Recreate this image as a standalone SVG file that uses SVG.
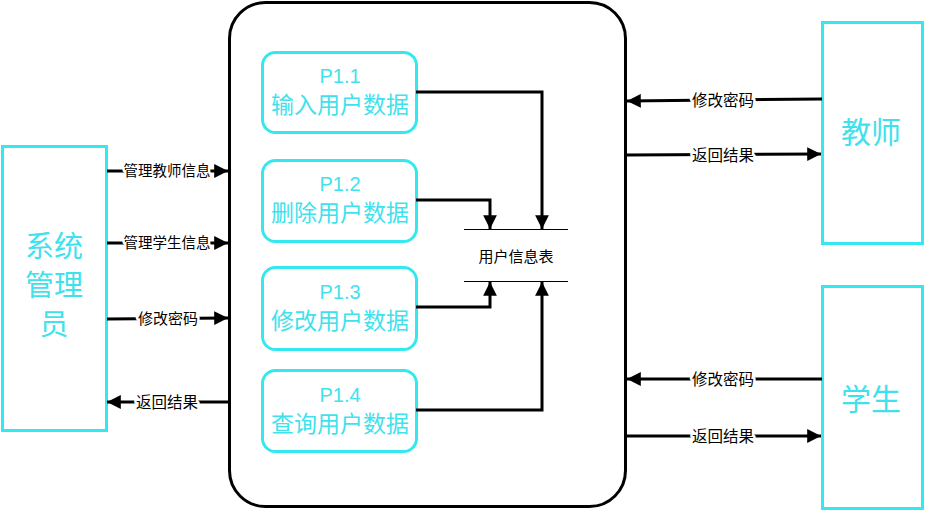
<svg xmlns="http://www.w3.org/2000/svg" width="925" height="510" viewBox="0 0 925 510">
  <style>
    .ent { fill: #fff; stroke: #33e8ee; stroke-width: 3; }
    .proc { fill: #fff; stroke: #33e8ee; stroke-width: 3; }
    .cyan { fill: #3fe2ec; font-family: "Liberation Sans", "Noto Sans CJK SC", sans-serif; text-anchor: middle; }
    .lbl { fill: #000; font-family: "Liberation Sans", "Noto Sans CJK SC", sans-serif; text-anchor: middle; dominant-baseline: central; stroke: #fff; stroke-width: 5; paint-order: stroke; stroke-linejoin: round; }
    .flow { fill: none; stroke: #000; stroke-width: 3; }
    .store { stroke: #000; stroke-width: 1.2; }
  </style>
  <defs>
    <marker id="arr" viewBox="0 0 10 10" refX="10" refY="5" markerWidth="6" markerHeight="4.6" markerUnits="strokeWidth" orient="auto">
      <path d="M0,0 L10,5 L0,10 z" fill="#000"/>
    </marker>
  </defs>
  <rect width="925" height="510" fill="#fff"/>

  <!-- system boundary -->
  <g id="system">
    <rect x="229.5" y="2.5" width="396" height="504" rx="36" ry="36" fill="#fff" stroke="#000" stroke-width="3"/>
  </g>

  <!-- external entities -->
  <g id="admin">
    <rect class="ent" x="2.5" y="146.5" width="104" height="284"/>
    <text class="cyan" font-size="29" x="54" y="257">系统</text>
    <text class="cyan" font-size="29" x="54" y="296">管理</text>
    <text class="cyan" font-size="29" x="54" y="335">员</text>
  </g>
  <g id="teacher">
    <rect class="ent" x="822.5" y="22.5" width="100" height="221"/>
    <text class="cyan" font-size="30" x="871" y="143">教师</text>
  </g>
  <g id="student">
    <rect class="ent" x="822.5" y="286.5" width="100" height="222"/>
    <text class="cyan" font-size="30" x="871" y="410">学生</text>
  </g>

  <!-- processes -->
  <g id="p11">
    <rect class="proc" x="262.5" y="52.5" width="154" height="80" rx="13"/>
    <text class="cyan" font-size="20" x="340" y="83">P1.1</text>
    <text class="cyan" font-size="23" x="340" y="113">输入用户数据</text>
  </g>
  <g id="p12">
    <rect class="proc" x="262.5" y="160.5" width="154" height="81" rx="13"/>
    <text class="cyan" font-size="20" x="340" y="191">P1.2</text>
    <text class="cyan" font-size="23" x="340" y="221">删除用户数据</text>
  </g>
  <g id="p13">
    <rect class="proc" x="262.5" y="267.5" width="154" height="82" rx="13"/>
    <text class="cyan" font-size="20" x="340" y="299">P1.3</text>
    <text class="cyan" font-size="23" x="340" y="329">修改用户数据</text>
  </g>
  <g id="p14">
    <rect class="proc" x="262.5" y="370.5" width="154" height="81" rx="13"/>
    <text class="cyan" font-size="20" x="340" y="402">P1.4</text>
    <text class="cyan" font-size="23" x="340" y="432">查询用户数据</text>
  </g>

  <!-- data store -->
  <g id="store">
    <line class="store" x1="464" y1="229.5" x2="568" y2="229.5"/>
    <line class="store" x1="464" y1="281.5" x2="568" y2="281.5"/>
    <text x="516" y="256" font-size="15" font-family="Liberation Sans, Noto Sans CJK SC, sans-serif" text-anchor="middle" dominant-baseline="central">用户信息表</text>
  </g>

  <!-- data flows -->
  <g id="connectors">
    <polyline class="flow" points="416,92 542,92 542,229" marker-end="url(#arr)"/>
    <polyline class="flow" points="416,200 490,200 490,229" marker-end="url(#arr)"/>
    <polyline class="flow" points="416,307 490,307 490,282" marker-end="url(#arr)"/>
    <polyline class="flow" points="416,410 542,410 542,282" marker-end="url(#arr)"/>

    <line class="flow" x1="107" y1="171" x2="228" y2="171" marker-end="url(#arr)"/>
    <text class="lbl" font-size="14.5" x="167" y="171">管理教师信息</text>
    <line class="flow" x1="107" y1="243" x2="228" y2="243" marker-end="url(#arr)"/>
    <text class="lbl" font-size="14.5" x="167" y="243">管理学生信息</text>
    <line class="flow" x1="107" y1="319" x2="228" y2="318" marker-end="url(#arr)"/>
    <text class="lbl" font-size="15" x="168" y="318">修改密码</text>
    <line class="flow" x1="228" y1="402" x2="107" y2="402" marker-end="url(#arr)"/>
    <text class="lbl" font-size="15.5" x="167" y="402">返回结果</text>

    <line class="flow" x1="822" y1="99" x2="627" y2="101" marker-end="url(#arr)"/>
    <text class="lbl" font-size="15.5" x="723" y="100">修改密码</text>
    <line class="flow" x1="627" y1="155" x2="821" y2="154" marker-end="url(#arr)"/>
    <text class="lbl" font-size="15.5" x="723" y="155">返回结果</text>
    <line class="flow" x1="822" y1="379" x2="627" y2="379" marker-end="url(#arr)"/>
    <text class="lbl" font-size="15.5" x="723" y="379">修改密码</text>
    <line class="flow" x1="627" y1="436" x2="821" y2="436" marker-end="url(#arr)"/>
    <text class="lbl" font-size="15.5" x="723" y="436">返回结果</text>
  </g>
</svg>
